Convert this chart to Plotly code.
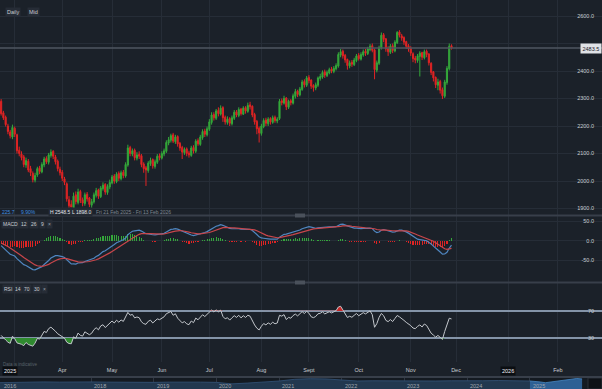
import plotly.graph_objects as go
import pandas as pd

# ---------------- data ----------------
warmup_close = [2300, 2315, 2305, 2325, 2318, 2335, 2325, 2340, 2330, 2345, 2335, 2348, 2338, 2350, 2340,
                2352, 2342, 2348, 2338, 2345, 2335, 2340,
                2330, 2338, 2325, 2330, 2318, 2325, 2312, 2318, 2305, 2312, 2300, 2306, 2295, 2300]

opens = [2290,2248,2232,2200,2178,2160,2192,2168,2112,2098,
         2088,2058,2072,2045,2028,2003,2022,2048,2033,2058,
         2082,2068,2093,2108,2088,2072,2043,2032,2008,1990,
         1932,1915,1900,1950,1922,1962,1932,1918,1952,1938,
         1912,1924,1948,1968,1943,1972,1988,1958,1978,1993,
         2018,1998,2028,2008,2032,2018,2058,2122,2098,2112,
         2083,2097,2092,2062,2048,2038,2063,2078,2053,2068,
         2092,2083,2098,2108,2138,2148,2168,2143,2162,2137,
         2122,2103,2117,2102,2093,2122,2108,2147,2133,2158,
         2182,2168,2188,2213,2242,2228,2257,2243,2267,2232,
         2213,2227,2208,2228,2252,2238,2262,2243,2267,2253,
         2277,2272,2242,2217,2192,2173,2198,2222,2208,2227,
         2213,2232,2218,2227,2292,2283,2302,2268,2292,2283,
         2308,2327,2313,2333,2362,2348,2377,2367,2347,2338,
         2348,2373,2378,2397,2383,2393,2407,2398,2408,2418,
         2458,2472,2457,2442,2418,2432,2423,2438,2457,2443,
         2458,2472,2463,2478,2492,2477,2403,2428,2483,2532,
         2517,2482,2468,2492,2473,2503,2542,2528,2522,2507,
         2492,2482,2463,2447,2438,2453,2467,2448,2472,2462,
         2428,2397,2377,2348,2362,2332,2308,2358,2408,2492]

closes = [2245,2230,2205,2180,2165,2195,2170,2110,2100,2085,
          2060,2075,2040,2030,2005,2020,2045,2035,2060,2080,
          2070,2095,2105,2090,2070,2045,2030,2010,1995,1935,
          1910,1905,1945,1925,1960,1930,1920,1950,1935,1915,
          1925,1950,1965,1945,1975,1985,1960,1980,1995,2015,
          2000,2025,2010,2030,2020,2060,2120,2100,2110,2085,
          2095,2090,2060,2045,2040,2065,2075,2055,2070,2090,
          2085,2100,2110,2140,2150,2165,2145,2160,2135,2120,
          2105,2115,2100,2095,2120,2110,2145,2135,2160,2180,
          2170,2190,2215,2240,2230,2255,2245,2265,2230,2215,
          2225,2210,2230,2250,2240,2260,2245,2265,2255,2275,
          2270,2240,2215,2190,2175,2200,2220,2210,2225,2215,
          2230,2220,2225,2290,2285,2300,2270,2290,2285,2310,
          2325,2315,2335,2360,2350,2375,2365,2345,2340,2350,
          2375,2380,2395,2385,2395,2405,2400,2410,2420,2460,
          2470,2455,2440,2420,2430,2425,2440,2455,2445,2460,
          2470,2465,2480,2490,2475,2405,2430,2485,2530,2515,
          2480,2470,2490,2475,2505,2540,2530,2520,2505,2490,
          2480,2465,2445,2440,2455,2465,2450,2470,2460,2430,
          2395,2375,2350,2360,2330,2310,2360,2410,2490,2483.5]

highs = [2298,2255,2238,2208,2186,2205,2198,2172,2125,2108,
         2095,2085,2080,2055,2035,2030,2052,2055,2068,2088,
         2090,2102,2115,2112,2095,2078,2052,2040,2015,1995,
         1945,1930,1958,1962,1972,1968,1940,1958,1960,1942,
         1935,1958,1975,1972,1982,1995,1992,1988,2005,2022,
         2025,2032,2035,2038,2040,2068,2132,2128,2118,2118,
         2105,2108,2098,2068,2055,2072,2085,2082,2078,2098,
         2100,2108,2118,2148,2160,2172,2175,2168,2166,2142,
         2128,2122,2122,2110,2128,2130,2152,2155,2168,2188,
         2190,2198,2225,2250,2250,2262,2268,2275,2272,2238,
         2235,2232,2238,2258,2258,2268,2266,2272,2272,2285,
         2288,2275,2248,2222,2198,2208,2228,2230,2232,2232,
         2238,2238,2232,2298,2300,2310,2305,2296,2298,2318,
         2335,2332,2342,2368,2370,2382,2385,2370,2352,2358,
         2380,2390,2402,2405,2402,2412,2415,2418,2428,2468,
         2480,2478,2462,2445,2438,2440,2448,2462,2465,2468,
         2478,2480,2488,2498,2500,2482,2438,2492,2540,2538,
         2520,2490,2498,2500,2512,2545,2548.5,2535,2526,2510,
         2498,2490,2468,2455,2462,2472,2470,2478,2478,2465,
         2432,2400,2380,2372,2368,2340,2368,2418,2500,2497]

lows = [2238,2222,2198,2170,2155,2152,2160,2100,2090,2075,
        2050,2048,2032,2018,1995,1995,2015,2025,2028,2050,
        2062,2060,2085,2080,2060,2035,2020,2000,1985,1925,
        1900,1898,1900,1915,1915,1920,1908,1910,1925,1905,
        1902,1918,1940,1935,1938,1965,1950,1950,1970,1988,
        1990,1992,2000,2002,2010,2012,2052,2090,2090,2075,
        2075,2080,2050,2030,1982,2030,2055,2045,2045,2062,
        2075,2078,2090,2102,2130,2140,2138,2135,2125,2110,
        2080,2095,2090,2085,2088,2100,2102,2128,2128,2150,
        2160,2162,2182,2205,2220,2222,2235,2238,2215,2205,
        2205,2200,2202,2222,2232,2232,2238,2240,2245,2248,
        2260,2232,2205,2170,2140,2165,2192,2200,2200,2205,
        2208,2212,2210,2222,2275,2278,2258,2262,2275,2278,
        2300,2305,2308,2328,2340,2342,2355,2335,2325,2330,
        2342,2365,2372,2375,2378,2388,2392,2392,2402,2412,
        2450,2445,2430,2405,2410,2415,2418,2432,2438,2438,
        2452,2455,2458,2472,2468,2370,2395,2422,2478,2505,
        2470,2455,2462,2465,2468,2498,2522,2510,2495,2480,
        2470,2455,2432,2428,2430,2380,2440,2442,2450,2420,
        2385,2362,2338,2330,2318,2298,2302,2350,2402,2478]

price_ticks = [1900, 2000, 2100, 2200, 2300, 2400, 2500, 2600]
macd_ticks = [-50, 0, 50]
rsi_levels = [30, 70]
month_labels = ["", "Apr", "May", "Jun", "Jul", "Aug", "Sept", "Oct", "Nov", "Dec", "", "Feb"]

nav_hist = [0.55, 0.58,
            0.60, 0.62, 0.60, 0.63,
            0.62, 0.60, 0.58, 0.55,
            0.58, 0.60, 0.62, 0.60,
            0.58, 0.45, 0.52, 0.60,
            0.70, 0.85, 0.90, 0.88,
            0.80, 0.70, 0.72, 0.70,
            0.72, 0.68, 0.70, 0.72,
            0.75, 0.72, 0.74, 0.70,
            0.70]
nav_2025 = [0.70, 0.68, 0.62, 0.55, 0.62, 0.68, 0.74, 0.78, 0.85, 0.92, 0.88]
nav_years = ["2018", "2019", "2020", "2021", "2022", "2023", "2024", "2025"]

# ---------------- derived ----------------
dates = pd.bdate_range("2025-02-21", periods=len(closes))
warm_dates = pd.bdate_range(end="2025-02-20", periods=len(warmup_close))
s = pd.Series(warmup_close + closes, index=warm_dates.append(dates))
ema12 = s.ewm(span=12, adjust=False).mean()
ema26 = s.ewm(span=26, adjust=False).mean()
macd_all = ema12 - ema26
sig_all = macd_all.ewm(span=9, adjust=False).mean()
hist_all = macd_all - sig_all
d = s.diff()
ag = d.clip(lower=0).ewm(alpha=1/14, adjust=False).mean()
al = (-d.clip(upper=0)).ewm(alpha=1/14, adjust=False).mean()
rsi_all = 100 - 100 / (1 + ag / al)
n = len(closes)
macd = macd_all.iloc[-n:].values
sig = sig_all.iloc[-n:].values
hist = hist_all.iloc[-n:].values
rsi = rsi_all.iloc[-n:].values

month_ticks = pd.date_range("2025-03-01", "2026-02-28", freq="BMS")
nav_hist_dates = pd.date_range("2016-07-01", periods=len(nav_hist), freq="QS")
nav_2025_dates = pd.date_range("2025-01-01", periods=len(nav_2025), freq="MS")
nav_tick_dates = [f"{y}-01-01" for y in nav_years]

# ---------------- style ----------------
BG = "#1b2129"
GRID = "#262d37"
G = "#34a83a"
R = "#e02424"
TXT = "#c9cdd2"
FONT = "Liberation Sans"
W, H = 602, 389

def px(x):
    return x / W

def py(y):
    return 1 - y / H

rb = [dict(bounds=["sat", "mon"])]
xr = ["2025-02-20 12:00", "2026-02-27 12:00"]

fig = go.Figure()

fig.add_trace(go.Candlestick(
    x=dates, open=opens, high=highs, low=lows, close=closes,
    xaxis="x", yaxis="y", whiskerwidth=0,
    increasing=dict(line=dict(color=G, width=1), fillcolor=G),
    decreasing=dict(line=dict(color=R, width=1), fillcolor=R),
))

fig.add_trace(go.Bar(
    x=dates, y=hist, xaxis="x2", yaxis="y2",
    marker=dict(color=[G if h >= 0 else R for h in hist], line=dict(width=0)),
    width=0.5 * 86400000,
))
fig.add_trace(go.Scatter(x=dates, y=macd, xaxis="x2", yaxis="y2", mode="lines",
                         line=dict(color="#4f86c0", width=1.2)))
fig.add_trace(go.Scatter(x=dates, y=sig, xaxis="x2", yaxis="y2", mode="lines",
                         line=dict(color="#c8464b", width=1.2)))

lo, hi = rsi_levels
fig.add_trace(go.Scatter(x=dates, y=[lo] * n, xaxis="x3", yaxis="y3", mode="lines",
                         line=dict(width=0, color="rgba(0,0,0,0)")))
fig.add_trace(go.Scatter(x=dates, y=[min(v, lo) for v in rsi], xaxis="x3", yaxis="y3", mode="lines",
                         line=dict(width=0, color="rgba(0,0,0,0)"), fill="tonexty",
                         fillcolor="#2f8a2f"))
fig.add_trace(go.Scatter(x=dates, y=[hi] * n, xaxis="x3", yaxis="y3", mode="lines",
                         line=dict(width=0, color="rgba(0,0,0,0)")))
fig.add_trace(go.Scatter(x=dates, y=[max(v, hi) for v in rsi], xaxis="x3", yaxis="y3", mode="lines",
                         line=dict(width=0, color="rgba(0,0,0,0)"), fill="tonexty",
                         fillcolor="#c62828"))
fig.add_trace(go.Scatter(x=dates, y=rsi, xaxis="x3", yaxis="y3", mode="lines",
                         line=dict(color="#c3c7cc", width=1)))

fig.add_trace(go.Scatter(x=nav_hist_dates, y=nav_hist, xaxis="x4", yaxis="y4", mode="lines",
                         line=dict(width=0.8, color="#33547a"), fill="tozeroy", fillcolor="#22384f"))
fig.add_trace(go.Scatter(x=nav_2025_dates, y=nav_2025, xaxis="x4", yaxis="y4", mode="lines",
                         line=dict(width=0.8, color="#4688c4"), fill="tozeroy", fillcolor="#2e6094"))

tickfont = dict(family=FONT, size=5.5, color=TXT)
xcommon = dict(type="date", range=xr, rangebreaks=rb, showgrid=True, gridcolor=GRID, gridwidth=1,
               tickvals=list(month_ticks), ticktext=month_labels, zeroline=False, showline=False,
               ticks="", domain=[0, 1], fixedrange=True)

fig.update_layout(
    width=W, height=H, margin=dict(l=0, r=0, t=0, b=0),
    paper_bgcolor=BG, plot_bgcolor=BG, showlegend=False, hovermode=False,
    font=dict(family=FONT, color=TXT, size=5.5),
    bargap=0,
    xaxis=dict(**xcommon, anchor="y", showticklabels=False, rangeslider=dict(visible=False)),
    xaxis2=dict(**xcommon, anchor="y2", matches="x", showticklabels=False),
    xaxis3=dict(**xcommon, anchor="y3", matches="x", showticklabels=True, tickfont=tickfont,
                ticklabelstandoff=3),
    yaxis=dict(domain=[py(215), 1], range=[1876.4, 2658.2], side="right", anchor="x",
               ticklabelposition="inside", tickvals=price_ticks,
               ticktext=["" if v == 2500 else f"{v:.1f}" for v in price_ticks],
               showgrid=True, gridcolor=GRID, fixedrange=True,
               zeroline=False, tickfont=tickfont, ticks="", ticklabelstandoff=5),
    yaxis2=dict(domain=[py(282), py(216)], range=[-105, 64], side="right", anchor="x2",
                ticklabelposition="inside", tickvals=macd_ticks, fixedrange=True,
                ticktext=[f"{v:.1f}" for v in macd_ticks], showgrid=True, gridcolor=GRID,
                zeroline=False, tickfont=tickfont, ticks="", ticklabelstandoff=5),
    yaxis3=dict(domain=[py(362), py(283)], range=[-5.6, 111.5], side="right", anchor="x3",
                ticklabelposition="inside", tickvals=rsi_levels, fixedrange=True,
                ticktext=[str(v) for v in rsi_levels], showgrid=True, gridcolor="#8494a8",
                gridwidth=1.5, zeroline=False, tickfont=tickfont, ticks="", ticklabelstandoff=5),
    xaxis4=dict(type="date", domain=[0, 1], anchor="y4", range=["2016-07-19", "2026-02-25"],
                tickvals=nav_tick_dates, showticklabels=False,
                showgrid=True, gridcolor="#2f3641", zeroline=False, ticks="", fixedrange=True),
    yaxis4=dict(domain=[0, py(377)], range=[0, 1.05], anchor="x4", visible=False, fixedrange=True),
)

shapes = []
shapes.append(dict(type="rect", xref="paper", yref="paper", x0=0, x1=1, y0=0, y1=py(377),
                   fillcolor="#141a21", line=dict(width=0), layer="below"))
shapes.append(dict(type="rect", xref="paper", yref="paper", x0=px(588), x1=px(602), y0=0, y1=py(378),
                   fillcolor="#0d1116", line=dict(color="#2b3139", width=1)))
for yy in (215.5, 282.5, 377):
    shapes.append(dict(type="line", xref="paper", yref="paper", x0=0, x1=1, y0=py(yy), y1=py(yy),
                       line=dict(color="#383f4a", width=2)))
for yy in (215.5, 282.5):
    shapes.append(dict(type="rect", xref="paper", yref="paper", x0=px(295), x1=px(305),
                       y0=py(yy + 2), y1=py(yy - 2), fillcolor="#4a515b", line=dict(width=0)))
shapes.append(dict(type="line", xref="paper", yref="y", x0=0, x1=1, y0=closes[-1], y1=closes[-1],
                   line=dict(color="#4f5660", width=1.5)))
fig.update_layout(shapes=shapes)

ann = []
def label(x, y, text, color=TXT, size=5, bg=None, anchor="left"):
    ann.append(dict(xref="paper", yref="paper", x=px(x), y=py(y), text=text, showarrow=False,
                    xanchor=anchor, yanchor="middle",
                    font=dict(family=FONT, size=size, color=color),
                    bgcolor=bg, borderpad=1))

label(5, 12, "Daily", size=5.5, bg="#262c36")
label(27, 12, "Mid", size=5.5, bg="#262c36")
label(0, 212, "225.7", color="#3f8fe0")
label(19, 212, "9.90%", color="#3f8fe0")
label(48, 212, f"H {max(highs):.1f}", bg="#242a33", color="#e2e5e9")
label(70, 212, f"L {min(lows):.1f}", bg="#242a33", color="#e2e5e9")
label(94, 212, "Fri 21 Feb 2025 - Fri 13 Feb 2026", color="#7f8690")
label(1, 224, "MACD", bg="#262c36")
label(19, 224, "12", bg="#262c36")
label(29, 224, "26", bg="#262c36")
label(38.5, 224, "9", bg="#262c36")
label(46, 224, "×", bg="#262c36", color="#9aa0a8")
label(2, 289, "RSI", bg="#262c36")
label(13, 289, "14", bg="#262c36")
label(22, 289, "70", bg="#262c36")
label(32, 289, "30", bg="#262c36")
label(41, 289, "×", bg="#262c36", color="#9aa0a8")
label(1, 364, "Data is indicative", color="#59616b", size=4.5)
label(2, 371, "2025", size=5.5, bg="#0b0e12", color="#f0f2f4")
label(2, 385.5, "2016", size=5.5, color="#a3a9b0")
for yd, yt in zip(nav_tick_dates, nav_years):
    ann.append(dict(xref="x4", yref="paper", x=yd, y=py(385.5), text=yt, showarrow=False,
                    xanchor="left", yanchor="middle", xshift=1,
                    font=dict(family=FONT, size=5.5, color="#a3a9b0")))
ann.append(dict(xref="x3", yref="paper", x=month_ticks[10], y=py(371), text="2026", showarrow=False,
                xanchor="center", yanchor="middle", font=dict(family=FONT, size=5.5, color="#f0f2f4"),
                bgcolor="#0b0e12", borderpad=1))
ann.append(dict(xref="paper", yref="y", x=1, y=closes[-1], text=f"{closes[-1]:.1f}", showarrow=False,
                xanchor="right", yanchor="middle", font=dict(family=FONT, size=5.5, color="#1b2129"),
                bgcolor="#dfe2e6", borderpad=1.5))
fig.update_layout(annotations=ann)

fig.write_html("out.html", config={"displayModeBar": False, "staticPlot": True},
               post_script="document.body.style.margin='0';document.body.style.overflow='hidden';")
